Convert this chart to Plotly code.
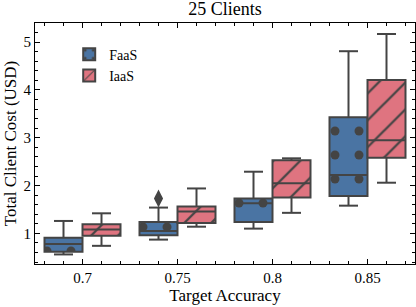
import plotly.graph_objects as go

categories = ["0.7", "0.75", "0.8", "0.85"]
series = ["FaaS", "IaaS"]

faas_min = [0.56, 0.87, 1.10, 1.58]
faas_q1 = [0.615, 0.96, 1.24, 1.78]
faas_med = [0.78, 1.05, 1.63, 2.22]
faas_q3 = [0.91, 1.24, 1.73, 3.43]
faas_max = [1.26, 1.54, 2.29, 4.81]

iaas_min = [0.74, 1.14, 1.43, 2.06]
iaas_q1 = [0.95, 1.22, 1.75, 2.58]
iaas_med = [1.08, 1.46, 2.05, 2.95]
iaas_q3 = [1.19, 1.56, 2.53, 4.21]
iaas_max = [1.42, 1.94, 2.57, 5.17]

faas_outlier_cat = [1]
faas_outlier_val = [1.73]

colors = {"FaaS": "#4a74a3", "IaaS": "#df7480"}
edge = "#444444"
FONT = "Liberation Serif, Times New Roman, serif"

stats = {
    "FaaS": dict(mn=faas_min, q1=faas_q1, med=faas_med, q3=faas_q3, mx=faas_max, off=-0.4,
                 pattern=dict(shape=".", size=24, solidity=0.11)),
    "IaaS": dict(mn=iaas_min, q1=iaas_q1, med=iaas_med, q3=iaas_q3, mx=iaas_max, off=0.0,
                 pattern=dict(shape="/", size=19, solidity=0.12)),
}

W = 0.4
fig = go.Figure()
xs = list(range(len(categories)))

for name in series:
    s = stats[name]
    wx, wy, cx, cy = [], [], [], []
    for i in xs:
        c = i + s["off"] + W / 2
        wx += [c, c, None, c, c, None]
        wy += [s["q3"][i], s["mx"][i], None, s["q1"][i], s["mn"][i], None]
        cx += [c - W / 4, c + W / 4, None, c - W / 4, c + W / 4, None]
        cy += [s["mx"][i], s["mx"][i], None, s["mn"][i], s["mn"][i], None]
    fig.add_trace(go.Scatter(x=wx, y=wy, mode="lines", line=dict(color=edge, width=2),
                             showlegend=False, hoverinfo="skip"))
    fig.add_trace(go.Scatter(x=cx, y=cy, mode="lines", line=dict(color=edge, width=2),
                             showlegend=False, hoverinfo="skip"))

for name in series:
    s = stats[name]
    pat = dict(s["pattern"])
    pat.update(fgcolor=edge, bgcolor=colors[name], fillmode="replace")
    fig.add_trace(go.Bar(
        x=xs, y=[q3 - q1 for q1, q3 in zip(s["q1"], s["q3"])], base=s["q1"],
        width=W, offset=s["off"], name=name,
        marker=dict(color=colors[name], pattern=pat, line=dict(color=edge, width=2)),
    ))

for name in series:
    s = stats[name]
    mx_, my_ = [], []
    for i in xs:
        mx_ += [i + s["off"], i + s["off"] + W, None]
        my_ += [s["med"][i], s["med"][i], None]
    fig.add_trace(go.Scatter(x=mx_, y=my_, mode="lines", line=dict(color=edge, width=2),
                             showlegend=False, hoverinfo="skip"))

fig.add_trace(go.Scatter(
    x=[i + stats["FaaS"]["off"] + W / 2 for i in faas_outlier_cat], y=faas_outlier_val,
    mode="markers", marker=dict(symbol="diamond-tall", size=13, color=edge),
    showlegend=False, hoverinfo="skip"))

axis_common = dict(showline=True, linecolor="black", linewidth=1, mirror="allticks",
                   ticks="inside", ticklen=5, tickcolor="black", showgrid=False, zeroline=False,
                   automargin=False,
                   tickfont=dict(family=FONT, size=15, color="black"))

fig.update_layout(
    width=416, height=307,
    margin=dict(l=35, r=1, t=23, b=43),
    paper_bgcolor="white", plot_bgcolor="white",
    barmode="overlay",
    font=dict(family=FONT, size=15, color="black"),
    title=dict(text="25 Clients", x=0.5, xref="paper", xanchor="center",
               y=0.993, yref="container", yanchor="top", pad=dict(t=0),
               font=dict(family=FONT, size=18, color="black")),
    xaxis=dict(range=[-0.5, 3.5], tickmode="array", tickvals=xs, ticktext=categories,
               title=dict(text="Target Accuracy", font=dict(family=FONT, size=17), standoff=3),
               minor=dict(tickmode="linear", tick0=0, dtick=0.2, ticks="inside", ticklen=3,
                          tickcolor="black"),
               **axis_common),
    yaxis=dict(range=[0.36, 5.40], tickmode="linear", tick0=0, dtick=1,
               title=dict(text="Total Client Cost (USD)", font=dict(family=FONT, size=17), standoff=2),
               minor=dict(tickmode="linear", tick0=0, dtick=0.2, ticks="inside", ticklen=3,
                          tickcolor="black"),
               **axis_common),
    legend=dict(x=0.09, y=0.935, xanchor="left", yanchor="top", bgcolor="rgba(0,0,0,0)",
                font=dict(family=FONT, size=14), itemwidth=30, tracegroupgap=4),
    showlegend=True,
)

fig.write_html("out.html", config={"displayModeBar": False},
               post_script="document.body.style.margin='0';")
